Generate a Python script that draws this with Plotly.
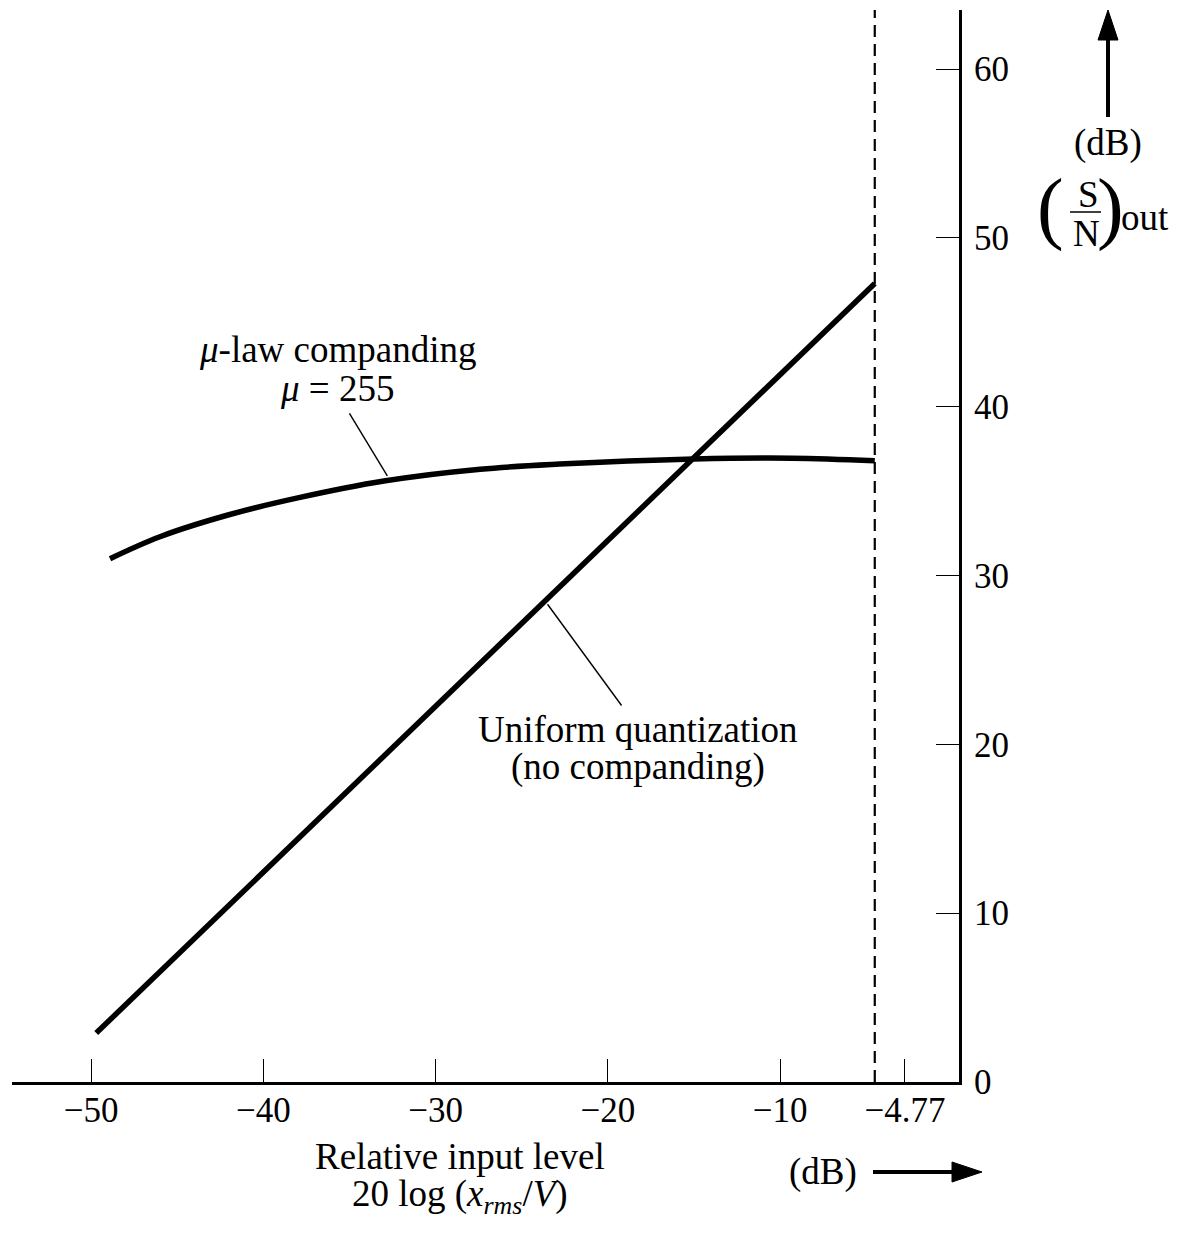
import plotly.graph_objects as go

# ---------------- data ----------------
input_level_uniform = [-49.7, -4.5]
snr_uniform = [2.9, 47.3]

input_level_mu = [-48.9, -46.0, -42.0, -38.0, -33.0, -27.4, -22.8, -15.0, -9.3, -4.5]
snr_mu = [31.0, 32.3, 33.6, 34.6, 35.6, 36.3, 36.6, 36.9, 36.95, 36.8]

max_input_level = -4.5  # dashed vertical line (−4.77 dB)

mu_leader_x = [-35.0, -32.8]
mu_leader_y = [39.6, 35.9]
uniform_leader_x = [-23.5, -19.2]
uniform_leader_y = [28.3, 22.3]

x_tick_values = [-50, -40, -30, -20, -10, -2.75]
x_tick_labels = ["−50", "−40", "−30", "−20", "−10", "−4.77"]
y_tick_values = [0, 10, 20, 30, 40, 50, 60]
y_tick_labels = ["0", "10", "20", "30", "40", "50", "60"]

# ---------------- figure ----------------
FONT = "Liberation Serif, Times New Roman, serif"
FS = 37
TFS = 35
OFF = 8  # default page body margin
W, H = 1177 - 2 * OFF, 1233 - 2 * OFF
PLOT_L, PLOT_T, PLOT_R, PLOT_B = 12, 10, 959, 1082  # page pixels of the plot area
PW, PH = PLOT_R - PLOT_L, PLOT_B - PLOT_T
ML, MT = PLOT_L - OFF, PLOT_T - OFF
MR, MB = W - ML - PW, H - MT - PH


def P(px, py):
    """page pixel position -> paper coordinates"""
    return (px - PLOT_L) / PW, (PLOT_B - py) / PH


fig = go.Figure()

fig.add_trace(go.Scatter(x=input_level_uniform, y=snr_uniform, mode="lines",
                         line=dict(color="black", width=5.5), hoverinfo="skip"))
fig.add_trace(go.Scatter(x=input_level_mu, y=snr_mu, mode="lines",
                         line=dict(color="black", width=5.5, shape="spline", smoothing=1.0),
                         hoverinfo="skip"))
fig.add_trace(go.Scatter(x=mu_leader_x, y=mu_leader_y, mode="lines",
                         line=dict(color="black", width=1.4), hoverinfo="skip"))
fig.add_trace(go.Scatter(x=uniform_leader_x, y=uniform_leader_y, mode="lines",
                         line=dict(color="black", width=1.4), hoverinfo="skip"))

fig.add_shape(type="line", xref="x", yref="paper", x0=max_input_level, x1=max_input_level,
              y0=0, y1=1, line=dict(color="black", width=2.2, dash="12px,7px"))

annotations = []


def txt(text, px, py, size=FS):
    x, y = P(px, py)
    annotations.append(dict(text=text, x=x, y=y, xref="paper", yref="paper",
                            xanchor="center", yanchor="middle", showarrow=False,
                            font=dict(family=FONT, size=size, color="black")))


txt("<i>μ</i>-law companding", 337, 350)
txt("<i>μ</i> = 255", 337, 389)
txt("Uniform quantization", 638, 730)
txt("(no companding)", 638, 767)
txt("Relative input level", 460, 1156)
txt("20 log (<i>x</i><sub><i>rms</i></sub>/<i>V</i>)", 460, 1196)
txt("(dB)", 823, 1172)
txt("(dB)", 1108, 143)
txt("(", 1050, 208, 80)
txt(")", 1110, 208, 80)
txt("S", 1088, 195)
txt("N", 1086, 233)
txt("out", 1145, 217)


def seg(p0, p1, width):
    x0, y0 = P(*p0)
    x1, y1 = P(*p1)
    fig.add_shape(type="line", xref="paper", yref="paper", x0=x0, y0=y0, x1=x1, y1=y1,
                  line=dict(color="black", width=width))


def tri(points):
    pts = [P(*p) for p in points]
    path = "M {} {} L {} {} L {} {} Z".format(*[c for p in pts for c in p])
    fig.add_shape(type="path", xref="paper", yref="paper", path=path,
                  fillcolor="black", line=dict(color="black", width=1))


# vertical arrow (S/N axis direction)
seg((1108, 117), (1108, 36), 4)
tri([(1108, 10), (1098, 40), (1118, 40)])
# horizontal arrow (input level direction)
seg((873, 1172), (956, 1172), 4)
tri([(982, 1172), (952, 1162), (952, 1182)])

# fraction bar of S/N
seg((1070, 212), (1101, 212), 1.5)

fig.update_layout(
    width=W, height=H, autosize=False,
    margin=dict(l=ML, r=MR, t=MT, b=MB),
    paper_bgcolor="white", plot_bgcolor="white",
    showlegend=False,
    font=dict(family=FONT, size=FS, color="black"),
    annotations=annotations,
    xaxis=dict(range=[-54.59, 0.39], tickvals=x_tick_values, ticktext=x_tick_labels,
               ticks="inside", ticklen=23, tickwidth=1.3, tickcolor="black",
               showline=True, linewidth=3, linecolor="black",
               showgrid=False, zeroline=False, ticklabelstandoff=-5,
               tickfont=dict(family=FONT, size=TFS, color="black")),
    yaxis=dict(range=[0, 63.5], side="right", tickvals=y_tick_values, ticktext=y_tick_labels,
               ticks="inside", ticklen=23, tickwidth=1.3, tickcolor="black",
               showline=True, linewidth=3, linecolor="black",
               showgrid=False, zeroline=False, ticklabelstandoff=5,
               tickfont=dict(family=FONT, size=TFS, color="black")),
)

fig.write_html("out.html")
